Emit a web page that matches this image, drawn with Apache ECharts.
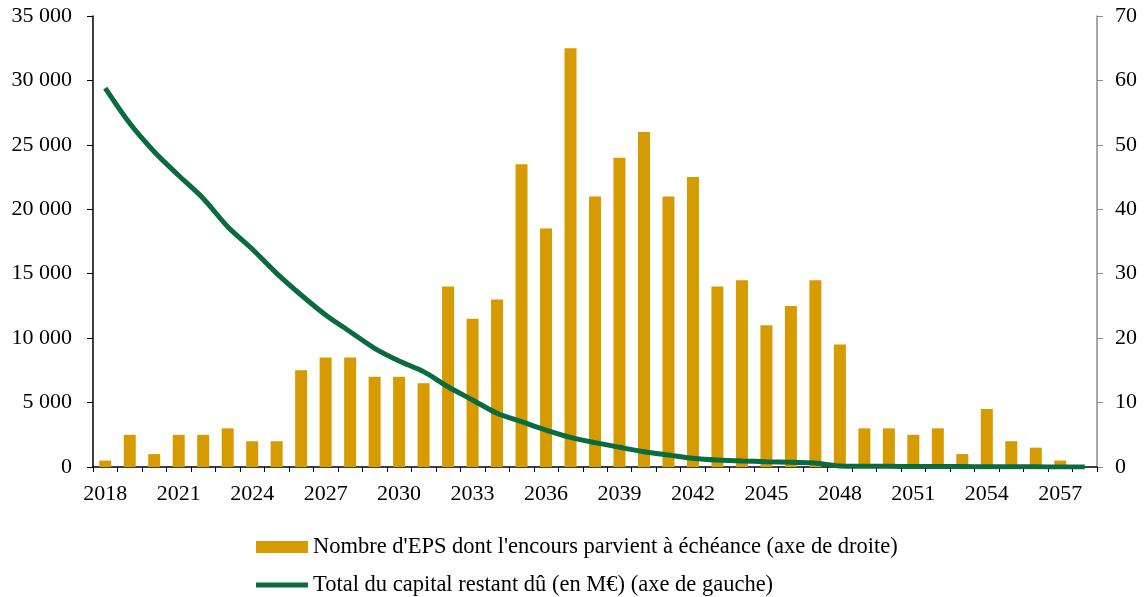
<!DOCTYPE html>
<html>
<head>
<meta charset="utf-8">
<script src="https://cdn.jsdelivr.net/npm/echarts@6/dist/echarts.min.js"></script>
<style>
html,body{margin:0;padding:0;background:#fff;}
#chart{width:1146px;height:597px;}
</style>
</head>
<body>
<div id="chart"></div>
<script>
// Categories (years)
const years = ['2018','2019','2020','2021','2022','2023','2024','2025','2026','2027',
  '2028','2029','2030','2031','2032','2033','2034','2035','2036','2037',
  '2038','2039','2040','2041','2042','2043','2044','2045','2046','2047',
  '2048','2049','2050','2051','2052','2053','2054','2055','2056','2057','2058'];

// Nombre d'EPS dont l'encours parvient à échéance (axe de droite)
const epsCount = [1,5,2,5,5,6,4,4,15,17,
  17,14,14,13,28,23,26,47,37,65,
  42,48,52,42,45,28,29,22,25,29,
  19,6,6,5,6,2,9,4,3,1,0];

// Total du capital restant dû (en M€) (axe de gauche)
const capital = [29400,26670,24470,22620,20840,18650,16920,15030,13350,11800,
  10500,9210,8230,7400,6230,5200,4170,3520,2870,2300,
  1890,1530,1190,930,680,540,470,410,360,310,
  80,60,50,40,30,30,20,10,10,5,0];

const barName = "Nombre d'EPS dont l'encours parvient à échéance (axe de droite)";
const lineName = "Total du capital restant dû (en M€) (axe de gauche)";

const FONT = 'Liberation Serif';
const BAR_COLOR = '#D69B00';
const LINE_COLOR = '#0A6B41';
const chart = echarts.init(document.getElementById('chart'), null, {renderer:'canvas'});

function spaced(v){
  return String(v).replace(/\B(?=(\d{3})+(?!\d))/g, ' ');
}

const legendText = {fontFamily: FONT, fontSize: 22.5, lineHeight: 24, color: '#000'};

chart.setOption({
  animation: false,
  backgroundColor: '#ffffff',
  textStyle: {fontFamily: FONT},
  grid: {left: 93, right: 49, top: 16, bottom: 130, containLabel: false},
  legend: [
    {
      left: 251,
      top: 530,
      itemWidth: 52,
      itemHeight: 12,
      textStyle: legendText,
      data: [{name: barName, icon: 'rect', itemStyle: {color: BAR_COLOR}}]
    },
    {
      left: 251,
      top: 568,
      itemWidth: 52,
      itemHeight: 5,
      textStyle: legendText,
      data: [{name: lineName, icon: 'rect', itemStyle: {color: LINE_COLOR}}]
    }
  ],
  xAxis: {
    type: 'category',
    data: years,
    boundaryGap: true,
    axisLine: {lineStyle: {color: '#000', width: 1.5}},
    axisTick: {show: true, interval: 0, alignWithLabel: false, length: 5, lineStyle: {color: '#000'}},
    axisLabel: {interval: 2, color: '#000', fontFamily: FONT, fontSize: 22, margin: 16}
  },
  yAxis: [
    {
      type: 'value',
      min: 0, max: 35000, interval: 5000,
      position: 'left',
      splitLine: {show: false},
      axisLine: {show: true, lineStyle: {color: '#000', width: 1.5}},
      axisTick: {show: true, length: 6, lineStyle: {color: '#000'}},
      axisLabel: {color: '#000', fontFamily: FONT, fontSize: 22, margin: 21, formatter: spaced}
    },
    {
      type: 'value',
      min: 0, max: 70, interval: 10,
      position: 'right',
      splitLine: {show: false},
      axisLine: {show: true, lineStyle: {color: '#8c8c8c', width: 1.5}},
      axisTick: {show: true, length: 6, lineStyle: {color: '#8c8c8c'}},
      axisLabel: {color: '#000', fontFamily: FONT, fontSize: 22, margin: 18}
    }
  ],
  series: [
    {
      name: barName,
      type: 'bar',
      yAxisIndex: 1,
      data: epsCount,
      barWidth: 12,
      itemStyle: {color: BAR_COLOR},
      z: 2
    },
    {
      name: lineName,
      type: 'line',
      yAxisIndex: 0,
      data: capital,
      symbol: 'none',
      smooth: 0.3,
      lineStyle: {color: LINE_COLOR, width: 5},
      itemStyle: {color: LINE_COLOR},
      z: 3
    }
  ]
});
</script>
</body>
</html>
